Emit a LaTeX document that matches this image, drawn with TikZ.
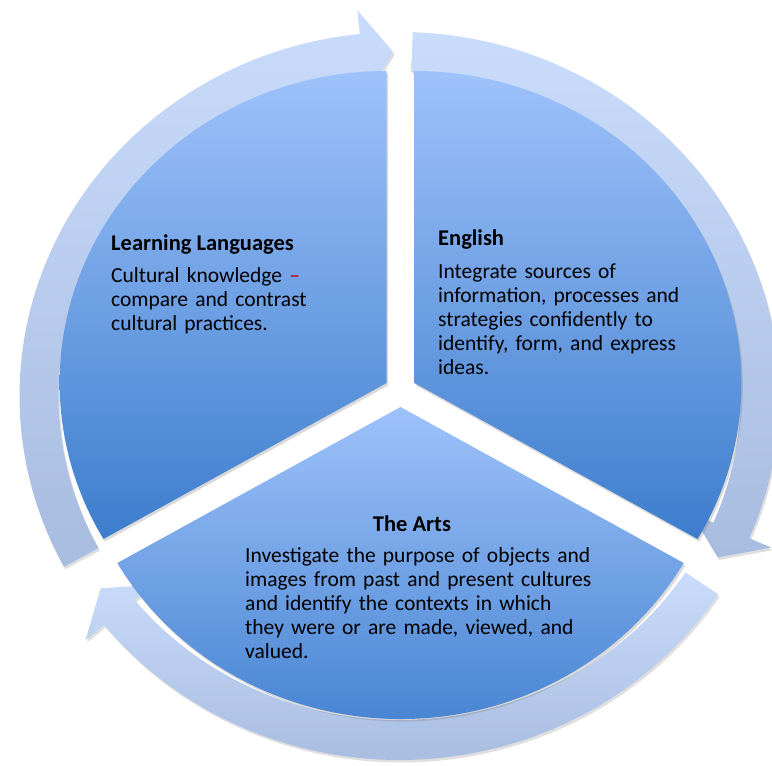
\documentclass[tikz,border=0pt]{standalone}
\usepackage{fontspec}
\setmainfont{Carlito}
\usetikzlibrary{positioning, calc, shadows}

\definecolor{secttop}{RGB}{158,194,250}
\definecolor{sectbot}{RGB}{61,125,205}
\definecolor{ringtop}{RGB}{201,220,251}
\definecolor{ringbot}{RGB}{168,188,224}
\definecolor{dashred}{RGB}{192,0,0}

\begin{document}
\begin{tikzpicture}[x=1pt, y=1pt, font=\fontsize{21.5}{24}\selectfont,
    sector/.style={top color=secttop, bottom color=sectbot,
        drop shadow={opacity=0.3, shadow xshift=1.5pt, shadow yshift=-2.5pt}},
    ringarrow/.style={top color=ringtop, bottom color=ringbot,
        drop shadow={opacity=0.25, shadow xshift=1.5pt, shadow yshift=-2.5pt}},
    head/.style={font=\fontsize{22.5}{24}\selectfont\bfseries, inner sep=0pt, anchor=base west},
    body/.style={align=left, inner sep=0pt}]
    \useasboundingbox (0,0) rectangle (772,766);
    \coordinate (ring) at (399.5,370);
    \coordinate (pie) at (400.5,375);

    % arrows round the pie
    \path[ringarrow] ($(ring)+(208:380pt and 364pt)$)
        arc[start angle=208, end angle=96, x radius=380pt, y radius=364pt]
        -- ($(ring)+(96:404pt and 388pt)$) -- ($(ring)+(91:360.5pt and 344pt)$)
        -- ($(ring)+(96:317pt and 300pt)$) -- ($(ring)+(96:341pt and 324pt)$)
        arc[start angle=96, end angle=208, x radius=341pt, y radius=324pt] -- cycle;
    \path[ringarrow] ($(ring)+(88:380pt and 364pt)$)
        arc[start angle=88, end angle=-23, x radius=380pt, y radius=364pt]
        -- ($(ring)+(-23:404pt and 388pt)$) -- ($(ring)+(-28:360.5pt and 344pt)$)
        -- ($(ring)+(-23:317pt and 300pt)$) -- ($(ring)+(-23:341pt and 324pt)$)
        arc[start angle=-23, end angle=88, x radius=341pt, y radius=324pt] -- cycle;
    \path[ringarrow] ($(ring)+(-33:380pt and 364pt)$)
        arc[start angle=-33, end angle=-141, x radius=380pt, y radius=364pt]
        -- ($(ring)+(-141:404pt and 388pt)$) -- ($(ring)+(-146:360.5pt and 344pt)$)
        -- ($(ring)+(-141:317pt and 300pt)$) -- ($(ring)+(-141:341pt and 324pt)$)
        arc[start angle=-141, end angle=-33, x radius=341pt, y radius=324pt] -- cycle;

    % exploded pie
    \coordinate (llapex) at ($(pie)+(150:16pt)$);
    \coordinate (enapex) at ($(pie)+(30:16pt)$);
    \coordinate (arapex) at ($(pie)+(270:16pt)$);
    \path[sector] (llapex) -- ++(90:327pt and 312pt)
        arc[start angle=90, end angle=210, x radius=327pt, y radius=312pt] -- cycle;
    \path[sector] (enapex) -- ++(-30:327pt and 312pt)
        arc[start angle=-30, end angle=90, x radius=327pt, y radius=312pt] -- cycle;
    \path[sector] (arapex) -- ++(210:327pt and 312pt)
        arc[start angle=210, end angle=330, x radius=327pt, y radius=312pt] -- cycle;

    \node[head] (llhead) at (111,515) {Learning Languages};
    \node[body, text width=220pt, below=32pt of llhead.base west, anchor=base west] (llbody)
        {Cultural knowledge {\color{dashred}--}\\compare and contrast\\cultural practices.};

    \node[head] (enhead) at (438,520) {English};
    \node[body, text width=270pt, below=33pt of enhead.base west, anchor=base west] (enbody)
        {Integrate sources of\\information, processes and\\strategies confidently to\\identify, form, and express\\ideas.};

    \node[head, anchor=base] (arhead) at (412,234) {The Arts};
    \node[body, text width=380pt, anchor=base west] (arbody) at (245,203)
        {Investigate the purpose of objects and\\images from past and present cultures\\and identify the contexts in which\\they were or are made, viewed, and\\valued.};
\end{tikzpicture}
\end{document}
